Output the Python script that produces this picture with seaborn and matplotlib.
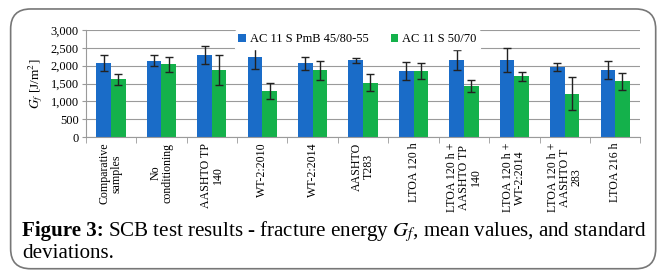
import numpy as np
import pandas as pd
import seaborn as sns
import matplotlib.pyplot as plt
from matplotlib.patches import FancyBboxPatch
from matplotlib.transforms import offset_copy

categories = ["Comparative\nsamples", "No\nconditioning", "AASHTO TP\n140", "WT-2:2010",
              "WT-2:2014", "AASHTO\nT283", "LTOA 120 h", "LTOA 120 h +\nAASHTO TP\n140",
              "LTOA 120 h +\nWT-2:2014", "LTOA 120 h +\nAASHTO T\n283", "LTOA 216 h"]
series = ["AC 11 S PmB 45/80-55", "AC 11 S 50/70"]
pmb_mean = [2080, 2140, 2300, 2230, 2065, 2150, 1840, 2160, 2160, 1970, 1880]
pmb_std = [220, 150, 250, 310, 190, 70, 250, 280, 345, 115, 250]
b5070_mean = [1615, 2035, 1865, 1295, 1870, 1520, 1840, 1435, 1705, 1220, 1560]
b5070_std = [150, 220, 420, 230, 270, 235, 220, 170, 125, 460, 235]
colors = ["#1a6cc8", "#14b14b"]

df = pd.DataFrame({
    "cat": categories * 2,
    "series": [series[0]] * len(categories) + [series[1]] * len(categories),
    "mean": pmb_mean + b5070_mean,
    "std": pmb_std + b5070_std,
})

plt.rcParams["font.family"] = ["Liberation Serif", "DejaVu Serif"]
plt.rcParams["mathtext.fontset"] = "stix"

fig = plt.figure(figsize=(6.65, 2.72), dpi=100)
ax = fig.add_axes([0.129, 0.496, 0.834, 0.394])

sns.barplot(data=df, x="cat", y="mean", hue="series", palette=colors, width=0.58,
            errorbar=None, saturation=1, ax=ax, zorder=2)

# error bars at the centres of the drawn bars
for cont, s in zip(ax.containers, series):
    sub = df[df["series"] == s]
    xs = [p.get_x() + p.get_width() / 2 for p in cont.patches]
    ax.errorbar(xs, sub["mean"], yerr=sub["std"], fmt="none", ecolor="#222222",
                elinewidth=1.0, capsize=3, capthick=1.0, zorder=3)

ax.set_ylim(0, 3000)
ax.set_yticks(range(0, 3001, 500))
ax.set_yticklabels([f"{v:,}" for v in range(0, 3001, 500)], fontsize=9)
ax.set_xlim(-0.5, len(categories) - 0.5)
ax.set_xlabel("")
ax.set_ylabel("$G_f$ [J/m$^2$]", fontsize=9.5, labelpad=4)
ax.grid(axis="y", color="#9a9a9a", linewidth=0.8, zorder=0)
ax.set_axisbelow(True)

ax.set_xticks(range(len(categories)))
ax.set_xticklabels(categories, rotation=90, fontsize=8.6, va="top", ha="center",
                   multialignment="center", linespacing=1.0)
ax.tick_params(axis="x", length=0, pad=4)
ax.set_xticks(np.arange(-0.5, len(categories), 1), minor=True)
ax.tick_params(axis="x", which="minor", length=4, color="#9a9a9a")
ax.tick_params(axis="y", length=3, color="#9a9a9a", pad=2)

for side in ["top", "right"]:
    ax.spines[side].set_visible(False)
for side in ["left", "bottom"]:
    ax.spines[side].set_color("#9a9a9a")
    ax.spines[side].set_linewidth(0.8)

ax.legend(loc="upper center", bbox_to_anchor=(0.49, 1.06), ncol=2, fontsize=9,
          frameon=True, facecolor="white", edgecolor="white", framealpha=1,
          handlelength=0.6, handleheight=0.6, handletextpad=0.3, columnspacing=1.8,
          borderpad=0.3)

# rounded frame around figure
frame = FancyBboxPatch((0.016, 0.012), 0.97, 0.955, boxstyle="round,pad=0,rounding_size=0.03",
                       transform=fig.transFigure, facecolor="none", edgecolor="#777777",
                       linewidth=1.2, mutation_aspect=665 / 272)
fig.patches.append(frame)

# caption: bold label, then the rest placed right after it
cap_size = 15.1
lbl = fig.text(0.033, 0.132, "Figure 3:", fontsize=cap_size, fontweight="bold",
               va="baseline", ha="left")
fig.canvas.draw()
w = lbl.get_window_extent().width
fig.text(0.033, 0.132, "SCB test results - fracture energy $G_f$, mean values, and standard",
         fontsize=cap_size, va="baseline", ha="left",
         transform=offset_copy(fig.transFigure, fig=fig, x=w + 4, y=0, units="dots"))
fig.text(0.033, 0.05, "deviations.", fontsize=cap_size, va="baseline", ha="left")

fig.savefig("out.png", dpi=100)
